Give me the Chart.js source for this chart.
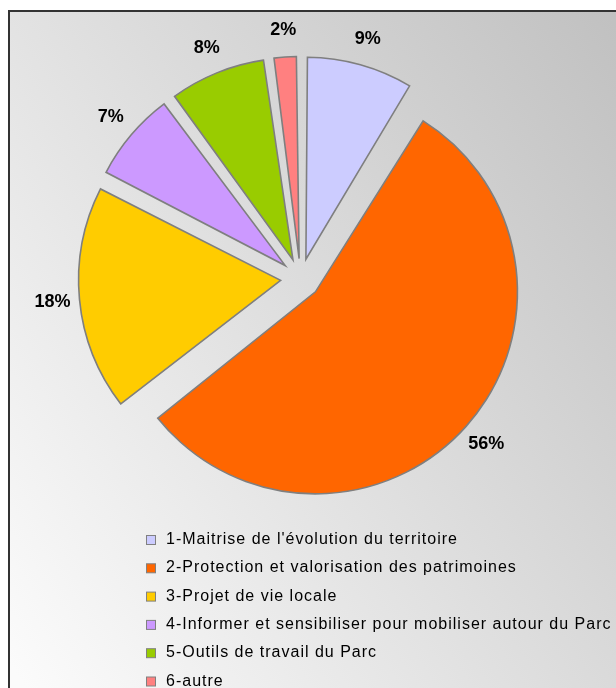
<!DOCTYPE html>
<html>
<head>
<meta charset="utf-8">
<script src="https://cdn.jsdelivr.net/npm/chart.js@4.4.0/dist/chart.umd.min.js"></script>
<style>
  html, body { margin: 0; padding: 0; background: #ffffff; }
  #wrap { width: 616px; height: 688px; position: relative; }
</style>
</head>
<body>
<div id="wrap"><canvas id="c"></canvas></div>
<script>
// ---- data ----
const categories = [
  "1-Maitrise de l'évolution du territoire",
  "2-Protection et valorisation des patrimoines",
  "3-Projet de vie locale",
  "4-Informer et sensibiliser pour mobiliser autour du Parc",
  "5-Outils de travail du Parc",
  "6-autre"
];
const shares = [8.7, 55.8, 18.0, 7.4, 7.9, 2.2];
const sliceColors = ['#ccccff', '#ff6600', '#ffcc00', '#cc99ff', '#99cc00', '#ff8080'];

// ---- styling constants ----
const RADIUS = 202;
const EXPLODE = 20;          // px each slice is pulled out
const LABEL_DIST = 249;      // label distance from pie centre
const FONT = '"Liberation Sans", Arial, Helvetica, sans-serif';

const backgroundPlugin = {
  id: 'frameBg',
  beforeDraw(chart) {
    const ctx = chart.ctx;
    ctx.save();
    ctx.fillStyle = '#ffffff';
    ctx.fillRect(0, 0, chart.width, chart.height);
    const g = ctx.createLinearGradient(20, 680, 771, 177);
    g.addColorStop(0, '#fbfbfb');
    g.addColorStop(1, '#bebebe');
    ctx.fillStyle = g;
    ctx.fillRect(9, 11, chart.width + 20, chart.height + 20);
    ctx.lineWidth = 2;
    ctx.strokeStyle = '#333333';
    ctx.strokeRect(9, 11, chart.width + 20, chart.height + 20);
    ctx.restore();
  }
};

// keep every exploded slice at the same radius
const radiusPlugin = {
  id: 'equalRadius',
  afterDatasetsUpdate(chart) {
    const meta = chart.getDatasetMeta(0);
    meta.data.forEach(arc => {
      const fix = 1 - Math.sin(Math.min(Math.PI, arc.circumference));
      arc.outerRadius = RADIUS - EXPLODE * fix;
    });
  }
};

const labelPlugin = {
  id: 'pctLabels',
  afterDatasetsDraw(chart) {
    const ctx = chart.ctx;
    const meta = chart.getDatasetMeta(0);
    const vals = chart.data.datasets[0].data;
    const total = vals.reduce((a, b) => a + b, 0);
    ctx.save();
    ctx.font = 'bold 18px ' + FONT;
    ctx.fillStyle = '#000000';
    ctx.textAlign = 'center';
    ctx.textBaseline = 'middle';
    meta.data.forEach((arc, i) => {
      const mid = (arc.startAngle + arc.endAngle) / 2;
      const x = arc.x + Math.cos(mid) * LABEL_DIST;
      const y = arc.y + Math.sin(mid) * LABEL_DIST;
      ctx.fillText(Math.round(vals[i] / total * 100) + '%', x, y);
    });
    ctx.restore();
  }
};

const legendPlugin = {
  id: 'stackLegend',
  afterDraw(chart) {
    const ctx = chart.ctx;
    const labels = chart.data.labels;
    const colors = chart.data.datasets[0].backgroundColor;
    ctx.save();
    ctx.font = '16px ' + FONT;
    ctx.textAlign = 'left';
    ctx.textBaseline = 'alphabetic';
    labels.forEach((t, i) => {
      const base = 544 + i * 28.3;
      ctx.letterSpacing = '0px';
      ctx.fillStyle = colors[i];
      ctx.fillRect(146.5, base - 8.5, 9, 9);
      ctx.lineWidth = 1;
      ctx.strokeStyle = '#808080';
      ctx.strokeRect(146.5, base - 8.5, 9, 9);
      ctx.fillStyle = '#000000';
      ctx.letterSpacing = '1px';
      ctx.fillText(t, 166, base);
    });
    ctx.restore();
  }
};

new Chart(document.getElementById('c'), {
  type: 'pie',
  data: {
    labels: categories,
    datasets: [{
      data: shares,
      backgroundColor: sliceColors,
      borderColor: '#7f7f7f',
      borderWidth: 1.6,
      borderJoinStyle: 'miter',
      offset: EXPLODE * 4,
      radius: RADIUS
    }]
  },
  options: {
    responsive: true,
    maintainAspectRatio: false,
    animation: false,
    events: [],
    layout: { padding: { left: 0, right: 15, top: 0, bottom: 131 } },
    plugins: {
      legend: { display: false },
      tooltip: { enabled: false },
      title: { display: false }
    }
  },
  plugins: [backgroundPlugin, radiusPlugin, labelPlugin, legendPlugin]
});
</script>
</body>
</html>
